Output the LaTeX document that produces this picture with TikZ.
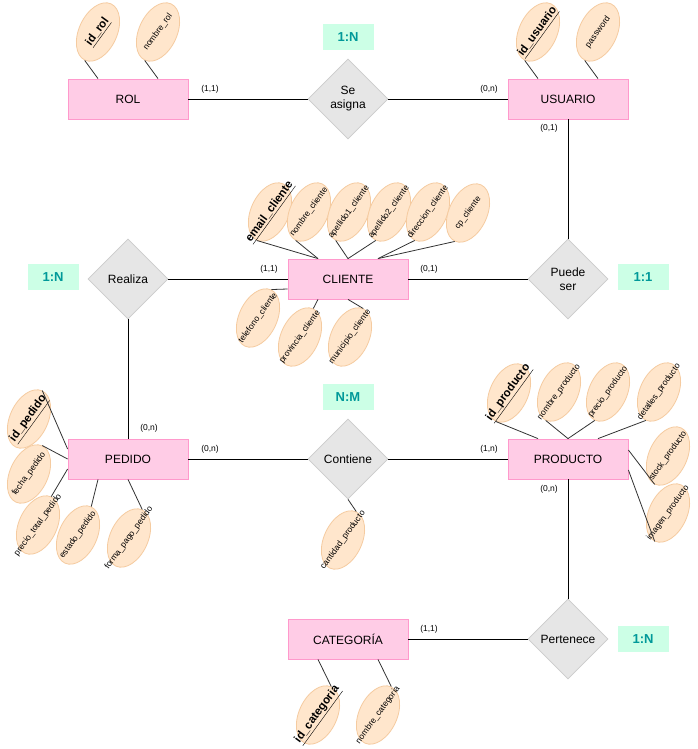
\documentclass[tikz,border=0pt]{standalone}
\usepackage{fontspec}
\setmainfont{Liberation Sans}
\usetikzlibrary{shapes.geometric,calc}
\definecolor{entfill}{HTML}{FFCCE6}
\definecolor{entdraw}{HTML}{FF99CC}
\definecolor{relfill}{HTML}{E6E6E6}
\definecolor{reldraw}{HTML}{CCCCCC}
\definecolor{attfill}{HTML}{FFE6CC}
\definecolor{attdraw}{HTML}{F5CBA0}
\definecolor{ratfill}{HTML}{CCFFE6}
\definecolor{rattext}{HTML}{009999}
\newcommand{\zw}[1]{\makebox[0pt][c]{\rotatebox[origin=c]{-11}{#1}}}
\tikzset{
  entity/.style={rectangle, draw=entdraw, fill=entfill, line width=0.8pt, minimum width=120, minimum height=40, inner sep=0, font=\fontsize{12}{14}\selectfont},
  rel/.style={diamond, aspect=1, draw=reldraw, fill=relfill, line width=0.8pt, minimum width=80, minimum height=80, inner sep=0, align=center, font=\fontsize{12}{14}\selectfont},
  attr/.style={ellipse, draw=attdraw, fill=attfill, line width=0.8pt, minimum width=62, minimum height=38, inner sep=0, rotate=65, font=\fontsize{8.5}{10}\selectfont},
  keyattr/.style={attr, font=\fontsize{11.5}{13}\selectfont\bfseries},
  card/.style={inner sep=0, font=\fontsize{8.5}{10}\selectfont},
  ratio/.style={fill=ratfill, minimum width=51, minimum height=26, inner sep=0, text=rattext, font=\fontsize{13}{15}\selectfont\bfseries},
  rline/.style={draw=black, line width=0.8pt},
  aline/.style={draw=black!80, line width=0.8pt},
}
\begin{document}
\begin{tikzpicture}[x=1pt,y=-1pt]
\fill[white] (0,0) rectangle (698,749);
\useasboundingbox (0,0) rectangle (698,749);

% entities
\node[entity] (rol) at (128,99) {ROL};
\node[entity] (usuario) at (568,99) {USUARIO};
\node[entity] (cliente) at (348,279) {CLIENTE};
\node[entity] (pedido) at (128,459) {PEDIDO};
\node[entity] (producto) at (568,459) {PRODUCTO};
\node[entity] (categoria) at (348,639) {CATEGORÍA};

% relationships
\node[rel] (seasigna) at (348,99) {Se\\asigna};
\node[rel] (puedeser) at (568,279) {Puede\\ser};
\node[rel] (realiza) at (128,279) {Realiza};
\node[rel] (contiene) at (348,459) {Contiene};
\node[rel] (pertenece) at (568,639) {Pertenece};

% ratios
\node[ratio] (r1) at (348,37) {1:N};
\node[ratio] (r2) at (53,277) {1:N};
\node[ratio] (r3) at (643,277) {1:1};
\node[ratio] (r4) at (348,397) {N:M};
\node[ratio] (r5) at (643,639) {1:N};

% relationship lines
\draw[rline] (rol) -- (seasigna);
\draw[rline] (seasigna) -- (usuario);
\draw[rline] (usuario) -- (puedeser);
\draw[rline] (cliente) -- (puedeser);
\draw[rline] (realiza) -- (cliente);
\draw[rline] (realiza) -- (pedido);
\draw[rline] (pedido) -- (contiene);
\draw[rline] (contiene) -- (producto);
\draw[rline] (producto) -- (pertenece);
\draw[rline] (categoria) -- (pertenece);

% cardinalities
\node[card] (c1) at (210,89) {(1,1)};
\node[card] (c2) at (489,89) {(0,n)};
\node[card] (c3) at (549,128) {(0,1)};
\node[card] (c4) at (269,269) {(1,1)};
\node[card] (c5) at (429,269) {(0,1)};
\node[card] (c6) at (149,428) {(0,n)};
\node[card] (c7) at (210,449) {(0,n)};
\node[card] (c8) at (489,449) {(1,n)};
\node[card] (c9) at (549,489) {(0,n)};
\node[card] (c10) at (429,629) {(1,1)};

% ROL attributes
\node[keyattr] (idrol) at (98,32) {\zw{\underline{id\_rol}}};
\node[attr] (nombrerol) at (158,32) {\zw{nombre\_rol}};
\draw[aline] (idrol.west) -- ([xshift=-30pt]rol.north);
\draw[aline] (nombrerol.west) -- ([xshift=30pt]rol.north);

% USUARIO attributes
\node[keyattr] (idusuario) at (538,32) {\zw{\underline{id\_usuario}}};
\node[attr] (password) at (598,32) {\zw{password}};
\draw[aline] (idusuario.west) -- ([xshift=-30pt]usuario.north);
\draw[aline] (password.west) -- ([xshift=30pt]usuario.north);

% CLIENTE attributes
\node[keyattr] (email) at (270,212) {\zw{\underline{email\_cliente}}};
\node[attr] (nombrecli) at (309,212) {\zw{nombre\_cliente}};
\node[attr] (ape1) at (349,212) {\zw{apellido1\_cliente}};
\node[attr] (ape2) at (389,212) {\zw{apellido2\_cliente}};
\node[attr] (direccion) at (428,212) {\zw{direccion\_cliente}};
\node[attr] (cp) at (468,213) {\zw{cp\_cliente}};
\node[attr] (telefono) at (258,318) {\zw{telefono\_cliente}};
\node[attr] (provincia) at (300,337) {\zw{provincia\_cliente}};
\node[attr] (municipio) at (350,337) {\zw{municipio\_cliente}};
\draw[aline] (email.west) -- ([xshift=-30pt]cliente.north);
\draw[aline] (nombrecli.west) -- ([xshift=-30pt]cliente.north);
\draw[aline] (ape1.west) -- (cliente.north);
\draw[aline] (ape2.west) -- (cliente.north);
\draw[aline] (direccion.west) -- ([xshift=30pt]cliente.north);
\draw[aline] (cp.west) -- ([xshift=30pt]cliente.north);
\draw[aline] (telefono.east) -- ([yshift=-10pt]cliente.west);
\draw[aline] (provincia.east) -- ([xshift=-30pt]cliente.south);
\draw[aline] (municipio.east) -- (cliente.south);

% PEDIDO attributes
\node[keyattr] (idpedido) at (29,419) {\zw{\underline{id\_pedido}}};
\node[attr] (fecha) at (29,474) {\zw{fecha\_pedido}};
\node[attr] (preciototal) at (38,525) {\zw{precio\_total\_pedido}};
\node[attr] (estado) at (78,535) {\zw{estado\_pedido}};
\node[attr] (formapago) at (129,538) {\zw{forma\_pago\_pedido}};
\draw[aline] (idpedido.east) -- ([yshift=10pt]pedido.west);
\draw[aline] (fecha.east) -- (pedido.west);
\draw[aline] (preciototal.east) -- ([yshift=-10pt]pedido.west);
\draw[aline] (estado.east) -- ([xshift=-30pt]pedido.south);
\draw[aline] (formapago.east) -- (pedido.south);

% PRODUCTO attributes
\node[keyattr] (idproducto) at (509,393) {\zw{\underline{id\_producto}}};
\node[attr] (nombreprod) at (559,392) {\zw{nombre\_producto}};
\node[attr] (precioprod) at (608,392) {\zw{precio\_producto}};
\node[attr] (detalles) at (659,392) {\zw{detalles\_producto}};
\node[attr] (stock) at (668,456) {\zw{stock\_producto}};
\node[attr] (imagen) at (668,513) {\zw{imagen\_producto}};
\draw[aline] (idproducto.west) -- ([xshift=-30pt]producto.north);
\draw[aline] (nombreprod.west) -- (producto.north);
\draw[aline] (precioprod.west) -- (producto.north);
\draw[aline] (detalles.west) -- ([xshift=30pt]producto.north);
\draw[aline] (stock.west) -- ([yshift=9pt]producto.east);
\draw[aline] (imagen.west) -- ([yshift=-11pt]producto.east);

% CONTIENE attribute
\node[attr] (cantidad) at (343,540) {\zw{cantidad\_producto}};
\draw[aline] (contiene.south) -- (cantidad.east);

% CATEGORIA attributes
\node[keyattr] (idcategoria) at (318,715) {\zw{\underline{id\_categoria}}};
\node[attr] (nombrecat) at (378,715) {\zw{nombre\_categoria}};
\draw[aline] ([xshift=-30pt]categoria.south) -- (idcategoria.east);
\draw[aline] ([xshift=30pt]categoria.south) -- (nombrecat.east);
\end{tikzpicture}
\end{document}
